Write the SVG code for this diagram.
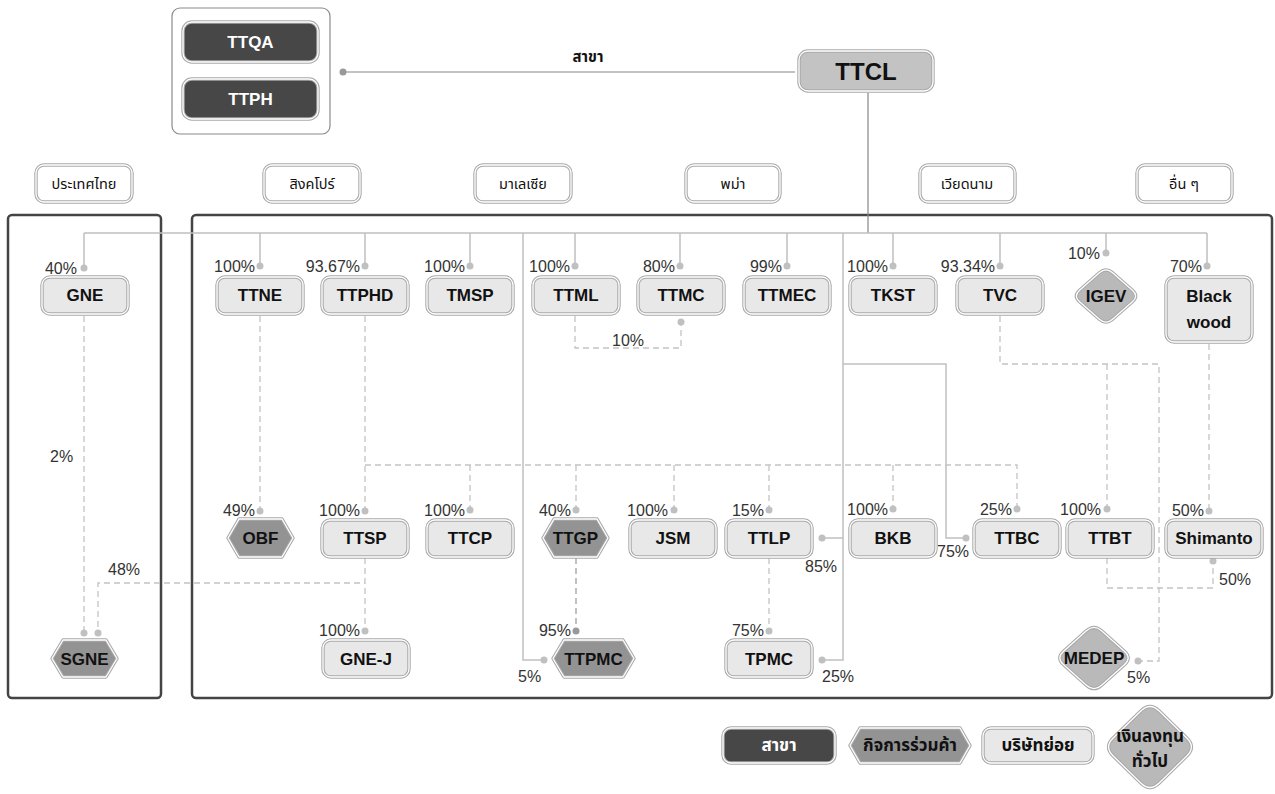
<svg xmlns="http://www.w3.org/2000/svg" width="1275" height="794" viewBox="0 0 1275 794">
<style>
text{font-family:"Liberation Sans","Noto Sans Thai","Noto Sans",sans-serif}
.o{stroke:#a9a9a9;stroke-width:3.4;stroke-linejoin:round}
.w{fill:none;stroke:#fff;stroke-width:1.3;stroke-linejoin:round}
.sub{fill:#e8e8e8}
.jv{fill:#939393}
.inv{fill:#b9b9b9}
.br{fill:#474747}
.plain{fill:#fff}
.lbl{font-size:17px;font-weight:bold;fill:#111;text-anchor:middle}
.lw{fill:#fff}
.ctry{font-size:14.5px;fill:#111;text-anchor:middle}
.pct{font-size:16px;fill:#333}
.e{text-anchor:end}
.frame{fill:none;stroke:#444;stroke-width:2.5}
.ln{fill:none;stroke:#c0c0c0;stroke-width:1.5}
.dk{fill:none;stroke:#888;stroke-width:1.2}
.dl{fill:none;stroke:#c4c4c4;stroke-width:1.3;stroke-dasharray:6 4}
.dl2{fill:none;stroke:#a0a0a0;stroke-width:1.3;stroke-dasharray:6 4}
.dot{fill:#c0c0c0}
</style>
<g id="frames">
<rect class="frame" x="8" y="215" width="153" height="483" rx="4"/>
<rect class="frame" x="192" y="215" width="1080" height="483" rx="4"/>
<rect x="172" y="8" width="158" height="126" rx="8" fill="#fff" stroke="#8a8a8a" stroke-width="1.2"/>
</g>
<g id="connectors">
<path class="dk" d="M343,72H795M868,93V233"/>
<circle cx="343" cy="72" r="3.5" fill="#999"/>
<text x="588" y="62" font-size="15" font-weight="bold" fill="#111" text-anchor="middle">สาขา</text>
<path class="ln" d="M84,233H1207M84,233V267M260,233V266M365,233V266M470,233V266M575,233V266M680,233V266M787,233V266M893,233V266M1000,233V266M1106,233V253M1207,233V266M523,233V660H544M843,233V660H822M843,538H822M843,364H946V538H966"/>
<path class="dl" d="M84,316V633M365,558V583H98V633M365,558V631M260,316V511M365,316V511M365,465H1017V509M470,465V510M576,465V510M674,465V510M769,465V510M893,465V509M769,558V631M575,316V348H681V322M1000,316V364H1159V661H1138M1107,364V509M1209,344V511M1107,558V588H1213V561"/>
<path class="dl2" d="M576,558V631"/>
<g class="dot">
<circle cx="84" cy="268" r="3.5"/><circle cx="260" cy="266" r="3.5"/><circle cx="365" cy="266" r="3.5"/><circle cx="470" cy="266" r="3.5"/><circle cx="575" cy="266" r="3.5"/><circle cx="680" cy="266" r="3.5"/><circle cx="787" cy="266" r="3.5"/><circle cx="893" cy="266" r="3.5"/><circle cx="1000" cy="266" r="3.5"/><circle cx="1106" cy="253" r="3.5"/><circle cx="1207" cy="266" r="3.5"/><circle cx="681" cy="322" r="3.5"/>
<circle cx="260" cy="511" r="3.5"/><circle cx="365" cy="511" r="3.5"/><circle cx="470" cy="510" r="3.5"/><circle cx="576" cy="510" r="3.5"/><circle cx="674" cy="510" r="3.5"/><circle cx="769" cy="510" r="3.5"/><circle cx="893" cy="509" r="3.5"/><circle cx="1017" cy="509" r="3.5"/><circle cx="1107" cy="509" r="3.5"/><circle cx="1209" cy="511" r="3.5"/>
<circle cx="822" cy="538" r="3.5"/><circle cx="966" cy="538" r="3.5"/><circle cx="1213" cy="561" r="3.5"/>
<circle cx="84" cy="633" r="3.5"/><circle cx="98" cy="633" r="3.5"/><circle cx="365" cy="631" r="3.5"/><circle cx="769" cy="631" r="3.5"/><circle cx="544" cy="660" r="3.5"/><circle cx="822" cy="660" r="3.5"/><circle cx="1138" cy="661" r="3.5"/>
</g>
<circle cx="576" cy="631" r="3.5" fill="#999"/>
<g class="pct">
<text class="e" x="77" y="274">40%</text><text class="e" x="255" y="272">100%</text><text class="e" x="360" y="272">93.67%</text><text class="e" x="465" y="272">100%</text><text class="e" x="570" y="272">100%</text><text class="e" x="675" y="272">80%</text><text class="e" x="782" y="272">99%</text><text class="e" x="888" y="272">100%</text><text class="e" x="995" y="272">93.34%</text><text class="e" x="1100" y="259">10%</text><text class="e" x="1202" y="272">70%</text>
<text x="612" y="346">10%</text>
<text class="e" x="255" y="516">49%</text><text class="e" x="360" y="516">100%</text><text class="e" x="465" y="516">100%</text><text class="e" x="571" y="516">40%</text><text class="e" x="668" y="516">100%</text><text class="e" x="764" y="516">15%</text><text class="e" x="888" y="515">100%</text><text class="e" x="1012" y="515">25%</text><text class="e" x="1101" y="515">100%</text><text class="e" x="1204" y="516">50%</text>
<text x="805" y="572">85%</text><text x="937" y="557">75%</text><text x="1219" y="585">50%</text><text x="50" y="462">2%</text><text x="108" y="575">48%</text>
<text class="e" x="360" y="636">100%</text><text class="e" x="571" y="636">95%</text><text class="e" x="764" y="636">75%</text><text x="518" y="682">5%</text><text x="822" y="682">25%</text><text x="1127" y="683">5%</text>
</g>
</g>
<g id="TTQA"><rect class="o br" x="183" y="22" width="135" height="40" rx="9"/><rect class="w" x="183" y="22" width="135" height="40" rx="9"/><text class="lbl lw" x="250.5" y="48" font-size="18">TTQA</text></g>
<g id="TTPH"><rect class="o br" x="183" y="79" width="135" height="40" rx="9"/><rect class="w" x="183" y="79" width="135" height="40" rx="9"/><text class="lbl lw" x="250.5" y="105" font-size="18">TTPH</text></g>
<g id="TTCL"><rect class="o" fill="#c3c3c3" x="799" y="51" width="134" height="40" rx="9"/><rect class="w" x="799" y="51" width="134" height="40" rx="9"/><text class="lbl" x="866" y="80" style="font-size:24px">TTCL</text></g>
<g id="country-th"><rect class="o plain" x="36" y="165" width="96" height="37" rx="8"/><rect class="w" x="36" y="165" width="96" height="37" rx="8"/><text class="ctry" x="84" y="189">ประเทศไทย</text></g>
<g id="country-sg"><rect class="o plain" x="264" y="165" width="96" height="37" rx="8"/><rect class="w" x="264" y="165" width="96" height="37" rx="8"/><text class="ctry" x="312" y="189">สิงคโปร์</text></g>
<g id="country-my"><rect class="o plain" x="475" y="165" width="96" height="37" rx="8"/><rect class="w" x="475" y="165" width="96" height="37" rx="8"/><text class="ctry" x="523" y="189">มาเลเซีย</text></g>
<g id="country-mm"><rect class="o plain" x="686" y="165" width="94" height="37" rx="8"/><rect class="w" x="686" y="165" width="94" height="37" rx="8"/><text class="ctry" x="733" y="189">พม่า</text></g>
<g id="country-vn"><rect class="o plain" x="920" y="165" width="95" height="37" rx="8"/><rect class="w" x="920" y="165" width="95" height="37" rx="8"/><text class="ctry" x="967" y="189">เวียดนาม</text></g>
<g id="country-other"><rect class="o plain" x="1137" y="165" width="95" height="37" rx="8"/><rect class="w" x="1137" y="165" width="95" height="37" rx="8"/><text class="ctry" x="1184" y="189">อื่น ๆ</text></g>
<g id="GNE"><rect class="o sub" x="42" y="277" width="86" height="37" rx="8"/><rect class="w" x="42" y="277" width="86" height="37" rx="8"/><text class="lbl" x="85" y="301">GNE</text></g>
<g id="TTNE"><rect class="o sub" x="217" y="277" width="86" height="37" rx="8"/><rect class="w" x="217" y="277" width="86" height="37" rx="8"/><text class="lbl" x="260" y="301">TTNE</text></g>
<g id="TTPHD"><rect class="o sub" x="322" y="277" width="86" height="37" rx="8"/><rect class="w" x="322" y="277" width="86" height="37" rx="8"/><text class="lbl" x="365" y="301">TTPHD</text></g>
<g id="TMSP"><rect class="o sub" x="427" y="277" width="86" height="37" rx="8"/><rect class="w" x="427" y="277" width="86" height="37" rx="8"/><text class="lbl" x="470" y="301">TMSP</text></g>
<g id="TTML"><rect class="o sub" x="533" y="277" width="86" height="37" rx="8"/><rect class="w" x="533" y="277" width="86" height="37" rx="8"/><text class="lbl" x="576" y="301">TTML</text></g>
<g id="TTMC"><rect class="o sub" x="638" y="277" width="86" height="37" rx="8"/><rect class="w" x="638" y="277" width="86" height="37" rx="8"/><text class="lbl" x="681" y="301">TTMC</text></g>
<g id="TTMEC"><rect class="o sub" x="744" y="277" width="86" height="37" rx="8"/><rect class="w" x="744" y="277" width="86" height="37" rx="8"/><text class="lbl" x="787" y="301">TTMEC</text></g>
<g id="TKST"><rect class="o sub" x="850" y="277" width="86" height="37" rx="8"/><rect class="w" x="850" y="277" width="86" height="37" rx="8"/><text class="lbl" x="893" y="301">TKST</text></g>
<g id="TVC"><rect class="o sub" x="957" y="277" width="86" height="37" rx="8"/><rect class="w" x="957" y="277" width="86" height="37" rx="8"/><text class="lbl" x="1000" y="301">TVC</text></g>
<g id="IGEV"><path class="o inv" d="M1099.4,272.8Q1106,267 1112.6,272.8L1132.4,290.2Q1139,296 1132.4,301.8L1112.6,319.2Q1106,325 1099.4,319.2L1079.6,301.8Q1073,296 1079.6,290.2Z"/><path class="w" d="M1099.4,272.8Q1106,267 1112.6,272.8L1132.4,290.2Q1139,296 1132.4,301.8L1112.6,319.2Q1106,325 1099.4,319.2L1079.6,301.8Q1073,296 1079.6,290.2Z"/><text class="lbl" x="1106" y="302">IGEV</text></g>
<g id="Blackwood"><rect class="o sub" x="1166" y="277" width="86" height="65" rx="8"/><rect class="w" x="1166" y="277" width="86" height="65" rx="8"/><text class="lbl" x="1209" y="302">Black</text><text class="lbl" x="1209" y="328">wood</text></g>
<g id="OBF"><polygon class="o jv" points="228,538 239,519 282,519 293,538 282,557 239,557"/><polygon class="w" points="228,538 239,519 282,519 293,538 282,557 239,557"/><text class="lbl" x="260.5" y="544">OBF</text></g>
<g id="TTSP"><rect class="o sub" x="322" y="520" width="86" height="37" rx="8"/><rect class="w" x="322" y="520" width="86" height="37" rx="8"/><text class="lbl" x="365" y="544">TTSP</text></g>
<g id="TTCP"><rect class="o sub" x="427" y="520" width="86" height="37" rx="8"/><rect class="w" x="427" y="520" width="86" height="37" rx="8"/><text class="lbl" x="470" y="544">TTCP</text></g>
<g id="TTGP"><polygon class="o jv" points="543,538 554,519 597,519 608,538 597,557 554,557"/><polygon class="w" points="543,538 554,519 597,519 608,538 597,557 554,557"/><text class="lbl" x="575.5" y="544">TTGP</text></g>
<g id="JSM"><rect class="o sub" x="630" y="520" width="86" height="37" rx="8"/><rect class="w" x="630" y="520" width="86" height="37" rx="8"/><text class="lbl" x="673" y="544">JSM</text></g>
<g id="TTLP"><rect class="o sub" x="726" y="520" width="86" height="37" rx="8"/><rect class="w" x="726" y="520" width="86" height="37" rx="8"/><text class="lbl" x="769" y="544">TTLP</text></g>
<g id="BKB"><rect class="o sub" x="850" y="520" width="86" height="37" rx="8"/><rect class="w" x="850" y="520" width="86" height="37" rx="8"/><text class="lbl" x="893" y="544">BKB</text></g>
<g id="TTBC"><rect class="o sub" x="974" y="520" width="86" height="37" rx="8"/><rect class="w" x="974" y="520" width="86" height="37" rx="8"/><text class="lbl" x="1017" y="544">TTBC</text></g>
<g id="TTBT"><rect class="o sub" x="1067" y="520" width="86" height="37" rx="8"/><rect class="w" x="1067" y="520" width="86" height="37" rx="8"/><text class="lbl" x="1110" y="544">TTBT</text></g>
<g id="Shimanto"><rect class="o sub" x="1166" y="520" width="96" height="37" rx="8"/><rect class="w" x="1166" y="520" width="96" height="37" rx="8"/><text class="lbl" x="1214" y="544">Shimanto</text></g>
<g id="SGNE"><polygon class="o jv" points="52,658.5 63,640 106,640 117,658.5 106,677 63,677"/><polygon class="w" points="52,658.5 63,640 106,640 117,658.5 106,677 63,677"/><text class="lbl" x="84.5" y="665">SGNE</text></g>
<g id="GNE-J"><rect class="o sub" x="323" y="640" width="86" height="37" rx="8"/><rect class="w" x="323" y="640" width="86" height="37" rx="8"/><text class="lbl" x="366" y="665">GNE-J</text></g>
<g id="TTPMC"><polygon class="o jv" points="553,658.5 564,640 623,640 634,658.5 623,677 564,677"/><polygon class="w" points="553,658.5 564,640 623,640 634,658.5 623,677 564,677"/><text class="lbl" x="593.5" y="665">TTPMC</text></g>
<g id="TPMC"><rect class="o sub" x="726" y="640" width="86" height="37" rx="8"/><rect class="w" x="726" y="640" width="86" height="37" rx="8"/><text class="lbl" x="769" y="665">TPMC</text></g>
<g id="MEDEP"><path class="o inv" d="M1086.4,630.8Q1094,624 1101.6,630.8L1124.4,651.2Q1132,658 1124.4,664.8L1101.6,685.2Q1094,692 1086.4,685.2L1063.6,664.8Q1056,658 1063.6,651.2Z"/><path class="w" d="M1086.4,630.8Q1094,624 1101.6,630.8L1124.4,651.2Q1132,658 1124.4,664.8L1101.6,685.2Q1094,692 1086.4,685.2L1063.6,664.8Q1056,658 1063.6,651.2Z"/><text class="lbl" x="1094" y="664">MEDEP</text></g>
<g id="legend-branch"><rect class="o br" x="723" y="728" width="112" height="35" rx="8"/><rect class="w" x="723" y="728" width="112" height="35" rx="8"/><text class="lbl lw" x="779" y="751" style="font-size:17px">สาขา</text></g>
<g id="legend-jv"><polygon class="o jv" points="850,745.5 860,728 960,728 970,745.5 960,763 860,763"/><polygon class="w" points="850,745.5 860,728 960,728 970,745.5 960,763 860,763"/><text class="lbl" x="910" y="751" style="font-size:17px">กิจการร่วมค้า</text></g>
<g id="legend-sub"><rect class="o sub" x="983" y="728" width="110" height="35" rx="8"/><rect class="w" x="983" y="728" width="110" height="35" rx="8"/><text class="lbl" x="1038" y="751" style="font-size:17px">บริษัทย่อย</text></g>
<g id="legend-inv"><path class="o inv" d="M1140.8,711Q1150,702 1159.2,711L1186.8,738Q1196,747 1186.8,756L1159.2,783Q1150,792 1140.8,783L1113.2,756Q1104,747 1113.2,738Z"/><path class="w" d="M1140.8,711Q1150,702 1159.2,711L1186.8,738Q1196,747 1186.8,756L1159.2,783Q1150,792 1140.8,783L1113.2,756Q1104,747 1113.2,738Z"/><text class="lbl" x="1150" y="742" style="font-size:17px">เงินลงทุน</text><text class="lbl" x="1150" y="767" style="font-size:17px">ทั่วไป</text></g>
</svg>
